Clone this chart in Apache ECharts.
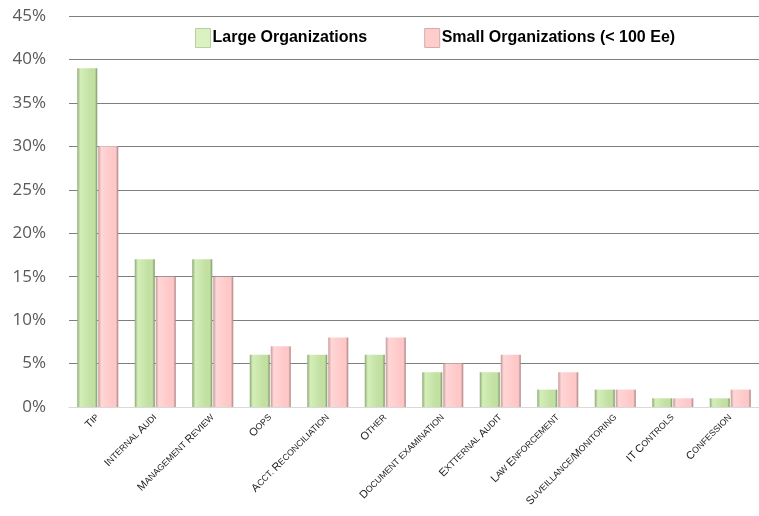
<!DOCTYPE html>
<html><head><meta charset="utf-8">
<script src="https://cdn.jsdelivr.net/npm/echarts@6/dist/echarts.min.js"></script>
<style>html,body{margin:0;padding:0;background:#fff}#c{width:759px;height:516px}</style>
</head><body><div id="c"></div>
<script>
const categories = ["Tip","Internal Audi","Management Review","Oops","Acct. Reconciliation","Other","Document examination","Extternal Audit","Law Enforcement","Suveillance/Monitoring","IT Controls","Confession"];
const largeOrgs = [39,17,17,6,6,6,4,4,2,2,1,1];
const smallOrgs = [30,15,15,7,8,8,5,6,4,2,1,2];
const yTicks = [0,5,10,15,20,25,30,35,40,45];

function smallCaps(s){
  let out='', cur=null, buf='';
  for(const ch of s){
    const t = (ch>='A'&&ch<='Z') ? 'b' : 's';
    if(t!==cur){ if(buf) out+='{'+cur+'|'+buf+'}'; buf=''; cur=t; }
    buf += ch.toUpperCase();
  }
  if(buf) out+='{'+cur+'|'+buf+'}';
  return out;
}
function grad(edgeL, mid1, mid2, edgeR){
  return new echarts.graphic.LinearGradient(0,0,1,0,[
    {offset:0,color:edgeL},{offset:0.15,color:mid1},{offset:0.7,color:mid2},{offset:0.88,color:mid2},{offset:1,color:edgeR}]);
}
const chart = echarts.init(document.getElementById('c'));
chart.setOption({
  animation:false,
  legend:{
    top:23, left:190, itemWidth:15, itemHeight:19, itemGap:57,
    textStyle:{fontFamily:'Liberation Sans, Arial', fontWeight:'bold', fontSize:16, color:'#000', padding:[0,0,0,-3]},
    data:[
      {name:'Large Organizations', icon:'rect', itemStyle:{color:'#d9f2c0', borderColor:'#b8cfa3', borderWidth:1}},
      {name:'Small Organizations (< 100 Ee)', icon:'rect', itemStyle:{color:'#ffcccc', borderColor:'#d9aaaa', borderWidth:1}}
    ]
  },
  grid:{left:69, right:-6, top:16, bottom:109},
  xAxis:{
    type:'category', data:categories,
    axisLine:{lineStyle:{color:'#d9d9d9'}},
    axisTick:{show:false},
    axisLabel:{
      interval:0, rotate:45, margin:9, color:'#222',
      formatter:v=>smallCaps(v),
      rich:{
        b:{fontFamily:'Liberation Sans, Arial', fontSize:11, color:'#222'},
        s:{fontFamily:'Liberation Sans, Arial', fontSize:8.8, color:'#222'}
      }
    }
  },
  yAxis:{
    type:'value', min:0, max:45, interval:5,
    axisLine:{show:false},
    axisTick:{show:false},
    splitLine:{lineStyle:{color:'#7f7f7f', width:1}},
    axisLabel:{formatter:v=>v+'%', fontFamily:'Open Sans, Lato', fontSize:17, color:'#595959', margin:23}
  },
  series:[
    {name:'Large Organizations', type:'bar', data:largeOrgs, barWidth:20, barGap:'5%',
     itemStyle:{color:grad('#8ea877','#d4eeb8','#c2e0a2','#7c9566')}},
    {name:'Small Organizations (< 100 Ee)', type:'bar', data:smallOrgs, barWidth:20,
     itemStyle:{color:grad('#c89a9a','#ffd6d6','#ffc8c8','#a88080')}}
  ]
});
</script></body></html>
